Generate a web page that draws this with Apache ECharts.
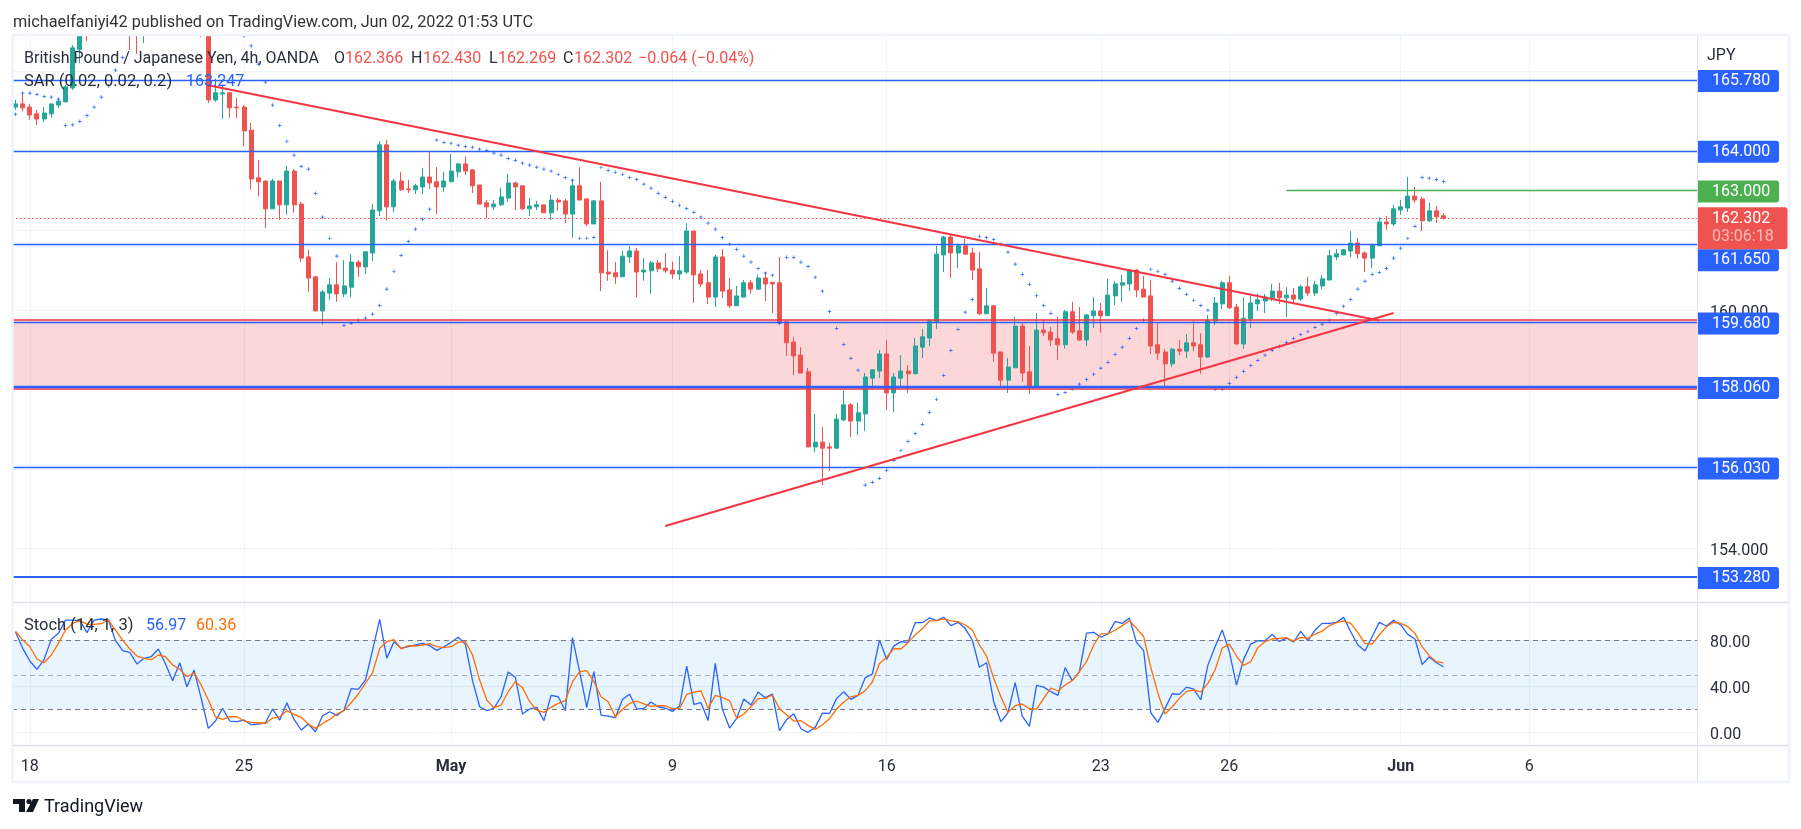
<!DOCTYPE html>
<html lang="en">
<head>
<meta charset="UTF-8">
<title>GBPJPY 4h</title>
<script src="https://cdn.jsdelivr.net/npm/echarts@6/dist/echarts.min.js"></script>
<style>
html,body{margin:0;padding:0;background:#fff;}
#chart{width:1801px;height:829px;}
</style>
</head>
<body>
<div id="chart"></div>
<script>
// candles, 4h bars. bars 9-27 run above the visible pane so those are rough guesses
var opens = [
165.10,165.18,165.10,164.93,164.80,164.93,165.15,165.23,165.58,166.55,
167.60,167.0,167.4,167.7,167.6,167.9,167.5,167.2,167.0,167.3,
167.5,167.8,167.6,167.7,167.5,167.6,167.4,167.1,165.28,165.43,
165.46,165.10,165.10,164.52,163.32,163.24,162.54,163.24,162.64,163.49,
162.66,161.33,160.83,159.97,160.42,160.63,160.40,160.57,161.20,161.08,
161.43,162.49,164.15,162.59,163.24,163.04,163.02,163.09,163.34,163.22,
163.09,163.22,163.47,163.67,163.52,163.14,162.69,162.59,162.64,162.81,
163.19,163.12,162.54,162.59,162.64,162.44,162.76,162.74,162.41,163.12,
162.79,162.16,162.74,160.95,160.93,160.83,161.33,161.48,160.95,160.98,
161.18,161.05,161.00,160.90,160.95,161.98,160.90,160.68,160.32,161.33,
160.50,160.10,160.32,160.68,160.52,160.80,160.69,160.68,159.70,159.19,
158.86,158.44,156.55,156.67,156.55,156.52,157.23,157.61,157.20,157.38,
158.28,158.46,158.89,157.91,158.28,158.46,158.39,159.06,159.29,159.70,
161.38,161.83,161.43,161.61,161.43,161.03,159.90,160.10,158.94,158.23,
158.54,159.59,158.44,158.06,159.49,159.44,159.27,159.12,159.95,159.47,
159.24,159.85,159.97,159.85,160.35,160.62,160.65,161.00,160.52,160.35,
159.12,158.94,158.64,159.01,158.96,159.17,159.12,158.81,159.72,160.15,
160.68,160.07,159.14,159.77,160.15,160.22,160.30,160.47,160.30,160.37,
160.27,160.58,160.42,160.60,160.75,161.33,161.38,161.48,161.68,161.43,
161.30,161.61,162.21,162.16,162.51,162.56,162.86,162.79,162.24,162.49,
162.366];
var closes = [
165.18,165.08,164.90,164.80,164.95,165.18,165.25,165.61,166.59,167.30,
167.00,167.4,167.7,167.6,167.9,167.5,167.0,167.0,167.3,167.5,
167.8,167.6,167.7,167.5,167.6,167.4,167.1,165.28,165.46,165.46,
165.08,165.08,164.50,163.29,163.22,162.54,163.24,162.64,163.49,162.64,
161.30,160.80,159.97,160.45,160.63,160.40,160.60,161.20,161.08,161.46,
162.51,164.15,162.59,163.24,163.02,163.02,163.12,163.34,163.19,163.09,
163.24,163.49,163.67,163.49,163.12,162.66,162.59,162.66,162.84,163.19,
163.09,162.54,162.61,162.64,162.44,162.76,162.71,162.41,163.12,162.76,
162.16,162.74,160.93,160.90,160.83,161.35,161.48,160.95,161.00,161.18,
161.03,160.98,160.90,160.98,161.98,160.88,160.65,160.32,161.33,160.47,
160.10,160.35,160.68,160.52,160.80,160.65,160.65,159.67,159.17,158.84,
158.41,156.55,156.67,156.52,156.52,157.25,157.61,157.20,157.41,158.31,
158.49,158.89,157.91,158.31,158.46,158.39,159.09,159.32,159.72,161.40,
161.83,161.43,161.61,161.40,161.00,159.90,160.10,158.91,158.23,158.56,
159.59,158.41,158.06,159.49,159.42,159.24,159.12,159.95,159.44,159.24,
159.87,159.97,159.85,160.37,160.65,160.68,161.00,160.50,160.32,159.09,
158.91,158.64,159.01,158.96,159.17,159.09,158.81,159.74,160.17,160.68,
160.05,159.14,159.79,160.17,160.25,160.32,160.47,160.30,160.37,160.27,
160.58,160.42,160.63,160.78,161.36,161.41,161.51,161.68,161.41,161.30,
161.63,162.21,162.16,162.54,162.59,162.86,162.76,162.24,162.49,162.34,
162.302];
var lows = [
165.03,164.99,164.78,164.65,164.73,164.83,165.08,165.23,165.53,166.20,
166.76,166.95,167.2,167.3,167.4,167.2,166.54,166.44,166.71,167.1,
167.3,167.3,167.3,167.2,167.3,167.2,166.86,165.20,165.23,164.80,
164.83,164.83,164.12,163.02,162.86,162.06,162.54,162.26,162.39,162.44,
161.20,160.45,159.97,159.62,160.25,160.20,160.32,160.32,160.83,160.90,
161.23,162.36,162.24,162.46,162.99,162.94,162.91,162.91,163.04,162.41,
162.97,163.22,163.34,163.39,162.94,162.66,162.31,162.51,162.61,162.71,
162.51,162.51,162.36,162.51,162.44,162.26,162.49,162.18,161.81,162.76,
162.11,162.16,160.47,160.73,160.65,160.83,161.18,160.32,160.73,160.40,
160.95,160.93,160.78,160.75,160.90,160.17,160.57,160.15,160.07,160.30,
160.05,160.10,160.30,160.40,160.52,160.22,159.92,159.64,158.84,158.36,
158.41,156.55,156.42,155.59,155.95,156.50,157.20,156.80,156.85,156.95,
158.01,158.28,157.48,157.43,158.08,157.91,158.39,158.79,159.09,159.52,
160.95,160.80,161.05,161.40,160.75,159.87,159.90,158.69,158.06,157.91,
158.54,158.19,157.88,158.06,159.34,159.09,158.74,159.02,159.39,159.22,
159.09,159.54,159.42,159.85,160.12,160.20,160.47,160.32,160.32,158.89,
158.74,158.03,158.56,158.86,158.79,158.96,158.39,158.79,159.62,160.02,
160.02,159.12,159.02,159.54,159.97,159.92,160.22,160.15,159.82,160.15,
160.22,160.35,160.35,160.52,160.75,161.25,161.38,161.33,161.28,160.95,
161.05,161.61,162.01,162.11,162.39,162.46,162.69,161.98,162.21,162.19,
162.269];
var highs = [
165.28,165.46,165.18,165.03,165.10,165.18,165.33,165.66,166.66,167.60,
167.70,167.6,167.9,168.0,168.1,168.2,167.7,167.6,167.5,167.7,
167.9,168.0,167.9,167.9,167.8,167.8,167.5,167.2,165.82,165.66,
165.46,165.33,165.15,164.70,163.77,163.24,163.29,163.24,163.62,163.54,
162.71,161.51,160.85,160.50,160.80,161.20,161.25,161.40,161.25,161.48,
162.66,164.25,164.27,163.29,163.47,163.27,163.17,163.57,163.97,163.59,
163.47,163.92,163.69,163.85,163.54,163.14,162.76,162.76,163.07,163.42,
163.22,163.12,162.81,162.74,162.64,162.89,162.81,162.79,163.29,163.59,
162.79,162.76,163.22,161.50,161.20,161.48,161.60,161.56,161.30,161.23,
161.25,161.43,161.21,161.35,162.18,161.98,161.00,161.00,161.38,161.53,
160.80,160.60,160.75,160.75,160.88,160.95,160.70,161.33,159.70,159.32,
159.06,158.54,157.38,157.05,156.65,157.38,157.96,157.66,157.66,158.41,
158.51,158.99,159.24,158.41,158.86,158.61,159.29,159.52,159.77,161.61,
161.86,161.88,161.63,161.78,161.56,161.46,160.55,160.12,158.94,158.79,
159.82,159.67,159.09,159.92,159.77,159.57,159.82,159.99,160.20,160.07,
159.90,160.32,160.17,160.78,160.72,160.88,161.03,161.03,160.85,160.75,
159.67,159.01,159.04,159.24,159.39,159.72,159.41,159.87,160.32,160.73,
160.85,160.15,160.32,160.35,160.40,160.40,160.65,160.68,160.57,160.55,
160.63,160.83,160.73,160.88,161.51,161.53,161.53,161.98,161.81,161.46,
161.66,162.33,162.36,162.64,162.76,163.34,163.09,162.84,162.69,162.61,
162.430];
// parabolic SAR, bars 16-31 are above the pane
var sar = [
164.92,165.45,165.45,165.42,165.37,165.35,165.30,164.64,164.65,164.74,
164.89,165.10,165.35,165.63,166.03,166.35,null,null,null,null,
null,null,null,null,null,null,null,null,null,null,
null,null,166.89,166.64,166.18,165.73,165.15,164.64,164.24,163.89,
163.61,163.54,162.93,162.33,161.80,161.35,159.61,159.66,159.74,159.79,
159.89,160.11,160.52,160.97,161.37,161.72,162.03,162.28,162.53,164.27,
164.21,164.19,164.14,164.11,164.09,164.04,164.01,163.94,163.89,163.81,
163.76,163.69,163.64,163.59,163.54,163.49,163.41,163.33,163.26,161.80,
161.80,161.82,163.58,163.51,163.46,163.41,163.33,163.28,163.16,163.06,
162.93,162.83,162.73,162.63,162.55,162.45,162.33,162.18,162.03,161.82,
161.65,161.52,161.35,161.20,161.04,160.92,160.87,159.66,161.32,161.32,
161.20,161.09,160.82,160.47,159.96,159.53,159.13,158.78,158.48,155.59,
155.66,155.76,155.96,156.21,156.46,156.69,156.89,157.12,157.42,157.75,
158.35,158.98,159.51,159.94,160.26,161.85,161.82,161.77,161.65,161.45,
161.15,160.89,160.64,160.36,160.11,159.91,157.87,157.92,158.00,158.13,
158.25,158.38,158.53,158.68,158.88,159.06,159.28,159.53,159.74,161.02,
160.97,160.89,160.72,160.54,160.39,160.24,160.11,159.99,158.00,158.00,
158.15,158.30,158.45,158.60,158.73,158.86,158.98,159.08,159.18,159.28,
159.38,159.46,159.56,159.64,159.74,159.91,160.09,160.26,160.52,160.72,
160.89,160.94,161.04,161.30,161.55,161.80,162.10,163.33,163.31,163.28,
163.23];
// stochastic %K and %D
var stochK = [
87.2,73.0,62.0,54.7,63.4,80.8,86.0,97.6,97.6,97.1,
86.6,97.6,98.5,97.6,79.7,71.0,69.5,59.4,64.3,65.7,
72.4,59.4,44.9,60.5,39.6,54.1,29.5,3.4,9.8,20.8,
9.8,9.2,10.6,6.6,7.2,8.3,20.2,10.6,25.7,11.2,
2.0,7.2,0.5,14.4,17.9,14.7,19.3,37.9,37.3,45.4,
71.5,98.2,64.3,78.8,73.0,74.4,75.9,77.3,75.3,71.2,
74.4,78.2,82.6,76.5,44.9,22.2,18.8,20.8,30.9,52.4,
47.8,15.9,20.2,21.7,10.1,32.1,30.9,18.8,82.3,52.7,
21.7,52.7,15.0,14.1,12.7,28.6,33.0,20.2,20.8,26.3,
22.2,21.1,18.2,22.8,57.6,24.3,25.7,10.3,59.9,20.0,
3.7,12.1,28.9,23.7,35.0,30.1,33.3,1.4,11.2,16.2,
3.1,0,4.3,16.7,16.4,29.5,35.3,28.6,32.1,47.5,
50.7,80.2,63.4,75.0,78.8,78.2,95.3,95.3,99.4,97.1,
100,92.7,95.6,90.4,80.2,56.5,60.5,26.6,9.2,17.0,
43.1,14.1,5.1,40.8,39.3,35.3,32.1,56.2,44.9,52.7,
86.3,86.9,82.6,85.5,96.2,94.7,99.4,78.2,71.0,17.0,
8.6,20.8,33.5,33.0,39.3,37.6,28.3,58.4,74.4,88.9,
70.1,41.1,63.4,76.7,79.6,79.6,85.1,79.0,81.9,78.5,
87.7,79.6,88.9,94.7,94.7,95.6,99.9,87.4,75.9,70.6,
83.1,95.6,92.4,97.3,93.3,85.1,81.1,59.0,65.4,60.5,
56.97];
var stochD = [
87.8,80.2,74.4,63.7,60.5,67.2,77.3,88.9,94.7,97.1,
93.9,93.9,94.4,97.6,88.9,80.2,72.4,66.3,64.3,63.1,
67.2,65.7,58.5,54.7,48.3,51.8,41.1,28.0,13.5,11.2,
13.5,13.5,9.8,8.6,8.3,7.7,12.4,13.5,18.8,15.6,
13.0,7.2,3.4,7.7,11.2,15.9,18.8,25.7,33.3,42.5,
51.8,73.0,78.8,80.5,72.4,75.3,75.0,75.9,76.8,74.4,
73.6,74.4,78.2,78.8,67.2,45.4,28.0,21.4,23.7,35.3,
44.0,38.8,26.6,19.3,17.3,21.7,25.1,27.5,44.0,52.7,
53.6,44.0,30.9,26.6,13.5,20.0,25.1,27.2,24.8,22.5,
23.1,23.1,20.5,20.5,33.0,35.0,35.9,20.8,32.1,30.1,
27.5,12.1,15.9,22.2,29.2,29.5,32.4,20.5,15.0,9.8,
10.1,6.0,2.5,6.6,11.8,20.2,26.3,30.9,32.1,36.2,
43.7,59.9,65.2,72.7,72.4,77.9,84.9,90.1,96.8,97.1,
98.5,96.8,96.2,93.3,88.9,75.9,66.3,46.9,30.9,17.3,
23.1,24.6,20.5,20.2,29.5,38.5,35.9,41.1,44.9,52.7,
61.4,75.9,85.5,85.8,88.7,92.7,97.1,90.4,83.1,56.5,
33.8,15.9,22.2,29.5,35.6,36.7,35.1,42.5,54.1,73.2,
76.7,66.3,58.2,61.4,73.8,78.7,81.1,81.7,82.2,79.3,
82.5,81.7,85.4,88.0,92.7,95.3,96.7,94.7,86.6,77.3,
76.7,84.6,91.8,95.6,94.7,91.8,86.0,74.4,66.6,61.4,
60.36];

var barSlots = 236; // bars + empty space on the right of the pane
var tickIndex = [2,32,61,92,122,152,170,194,212];
var tickLabels = ['18','25','May','9','16','23','26','Jun','6'];
var priceTicks = [154,156,158,160,162,164,166];
var priceLabels = [154,160]; // the rest sit behind the level tags
var stochTicks = [0,40,80];

var levelValues = [165.78,164.00,161.65,159.68,158.06,156.03,153.28];
var zoneRange = [159.74,158.015];
var lastPrice = 162.302;
var targetPrice = 163.0;
var targetFrom = 178;
var fallLineX = [27,191];
var fallLineY = [165.65,159.73];
var riseLineX = [91,193];
var riseLineY = [154.56,159.92];

var BLUE = '#2962ff', RED = '#ef5350', GREEN = '#26a69a', TREND = '#f23645', GRID = '#f0f3fa', EDGE = '#e0e3eb', TXT = '#2a2e39';
var FONT = 'Roboto';

var categories = opens.map(function (v, i) { return String(i); });
var candles = opens.map(function (v, i) { return [opens[i], closes[i], lows[i], highs[i]]; });

function tagLabel(str, bg, offsetY) {
  return {
    show: true, position: 'end', distance: 0, formatter: str, offset: [0, 1 + (offsetY || 0)],
    color: '#fff', fontFamily: FONT, fontSize: 16, backgroundColor: bg,
    width: 57, height: 22, lineHeight: 22, padding: [0, 10, 0, 15], borderRadius: [0, 3, 3, 0], align: 'left'
  };
}

// the 161.650 tag gets pushed down by the price tag
var levelOffset = {'161.65': 15};
var levelLines = levelValues.map(function (v) {
  return {
    yAxis: v,
    lineStyle: {color: BLUE, width: v === 153.28 ? 2.2 : (v === 158.06 ? 2.4 : 1.4), type: 'solid'},
    label: tagLabel(v.toFixed(3), BLUE, levelOffset[v])
  };
});
levelLines.push({yAxis: targetPrice, lineStyle: {color: 'rgba(0,0,0,0)', width: 1, type: 'solid'}, label: tagLabel(targetPrice.toFixed(3), '#4caf50')});

function pairs(xs, ys) { return xs.map(function (x, i) { return [x, ys[i]]; }); }
function text(x, y, str, color, size, weight) {
  return {type: 'text', x: x, y: y + 1.5, z: 50, silent: true,
    style: {text: str, fill: color || TXT, fontFamily: FONT, fontSize: size || 16, fontWeight: weight || 'normal', verticalAlign: 'middle', align: 'left'}};
}
function frameLine(x1, y1, x2, y2, color, w) {
  return {type: 'line', z: 40, silent: true, shape: {x1: x1, y1: y1, x2: x2, y2: y2}, style: {stroke: color, lineWidth: w}};
}

var chart = echarts.init(document.getElementById('chart'), null, {renderer: 'canvas'});
chart.setOption({
  animation: false,
  backgroundColor: '#fff',
  grid: [
    {left: 12, top: 36, width: 1685, height: 566},
    {left: 12, top: 603, width: 1685, height: 142}
  ],
  xAxis: [
    {type: 'category', gridIndex: 0, data: categories.concat(new Array(barSlots - categories.length).fill('')), boundaryGap: true, show: false},
    {type: 'category', gridIndex: 1, data: categories.concat(new Array(barSlots - categories.length).fill('')), boundaryGap: true, show: false},
    // value axes over the same slots: date grid, labels and the drawn lines
    {type: 'value', gridIndex: 0, min: -0.5, max: barSlots - 0.5, axisLine: {show: false}, axisLabel: {show: false},
      axisTick: {show: false, customValues: tickIndex}, splitLine: {show: true, lineStyle: {color: GRID, width: 1}}},
    {type: 'value', gridIndex: 1, position: 'bottom', min: -0.5, max: barSlots - 0.5, axisLine: {show: false},
      axisTick: {show: false, customValues: tickIndex}, splitLine: {show: true, lineStyle: {color: GRID, width: 1}},
      axisLabel: {show: true, customValues: tickIndex, margin: 14, color: TXT, fontFamily: FONT, fontSize: 16, hideOverlap: false,
        showMinLabel: true, showMaxLabel: true,
        formatter: function (v) {
          var s = tickLabels[tickIndex.indexOf(v)];
          return (s === 'May' || s === 'Jun') ? '{b|' + s + '}' : s;
        },
        rich: {b: {fontWeight: 'bold', fontFamily: FONT, fontSize: 16, color: TXT}}}}
  ],
  yAxis: [
    {type: 'value', gridIndex: 0, position: 'right', min: 152.649, max: 166.888, axisLine: {show: false},
      axisTick: {show: false, customValues: priceTicks}, splitLine: {show: true, lineStyle: {color: GRID, width: 1}},
      axisLabel: {customValues: priceLabels, margin: 13, align: 'left', verticalAlign: 'top', lineHeight: 6, color: TXT, fontFamily: FONT, fontSize: 16,
        formatter: function (v) { return v.toFixed(3); }}},
    {type: 'value', gridIndex: 1, position: 'right', min: -11.04, max: 112.4, axisLine: {show: false},
      axisTick: {show: false, customValues: stochTicks}, splitLine: {show: true, lineStyle: {color: GRID, width: 1}},
      axisLabel: {customValues: stochTicks, margin: 13, align: 'left', verticalAlign: 'top', lineHeight: 6, color: TXT, fontFamily: FONT, fontSize: 16,
        formatter: function (v) { return v.toFixed(2); }}}
  ],
  series: [
    {name: 'zone', type: 'line', xAxisIndex: 2, yAxisIndex: 0, data: [], z: 1, silent: true,
      markArea: {silent: true, itemStyle: {color: 'rgba(242,54,69,0.2)'}, data: [[{yAxis: zoneRange[0]}, {yAxis: zoneRange[1]}]]},
      markLine: {silent: true, symbol: 'none', label: {show: false},
        lineStyle: {color: TREND, width: 1.6, type: 'solid'}, data: [{yAxis: zoneRange[0]}, {yAxis: zoneRange[1]}]}},
    {name: 'GBPJPY', type: 'candlestick', xAxisIndex: 0, yAxisIndex: 0, data: candles, z: 3, barWidth: 4.5,
      itemStyle: {color: GREEN, color0: RED, borderColor: GREEN, borderColor0: RED, borderWidth: 1}},
    {name: 'SAR', type: 'scatter', xAxisIndex: 0, yAxisIndex: 0, data: sar, z: 4,
      symbol: 'path://M2 0H3V2H5V3H3V5H2V3H0V2H2Z', symbolSize: 3.6, itemStyle: {color: BLUE, opacity: 1}},
    {name: 'levels', type: 'line', xAxisIndex: 2, yAxisIndex: 0, data: [], z: 5, silent: true,
      markLine: {silent: true, symbol: 'none', animation: false, data: levelLines}},
    {name: 'last', type: 'line', xAxisIndex: 2, yAxisIndex: 0, data: [], z: 6, silent: true,
      markLine: {silent: true, symbol: 'none', data: [{
        yAxis: lastPrice,
        lineStyle: {color: RED, width: 1, type: [1.5, 2.5]},
        label: {show: true, position: 'end', distance: 0, offset: [0, 10], backgroundColor: RED, borderRadius: [0, 3, 3, 0],
          padding: [3, 14, 3, 15], align: 'left', color: '#fff', fontFamily: FONT, fontSize: 16,
          formatter: '{a|' + lastPrice.toFixed(3) + '}\n{c|03:06:18}',
          rich: {a: {color: '#fff', fontFamily: FONT, fontSize: 16, lineHeight: 18}, c: {color: 'rgba(255,255,255,0.6)', fontFamily: FONT, fontSize: 16, lineHeight: 18}}}
      }]}},
    {name: 'target', type: 'line', xAxisIndex: 2, yAxisIndex: 0, z: 5, silent: true, symbol: 'none',
      data: [[targetFrom, targetPrice], [barSlots - 0.5, targetPrice]], lineStyle: {color: '#4caf50', width: 1.5}},
    {name: 'fall', type: 'line', xAxisIndex: 2, yAxisIndex: 0, z: 6, silent: true, symbol: 'none',
      data: pairs(fallLineX, fallLineY), lineStyle: {color: TREND, width: 2.2}},
    {name: 'rise', type: 'line', xAxisIndex: 2, yAxisIndex: 0, z: 6, silent: true, symbol: 'none',
      data: pairs(riseLineX, riseLineY), lineStyle: {color: TREND, width: 2.2}},
    {name: 'stochK', type: 'line', xAxisIndex: 1, yAxisIndex: 1, data: stochK, symbol: 'none', z: 4, lineStyle: {color: BLUE, width: 1.3},
      markArea: {silent: true, itemStyle: {color: 'rgba(33,150,243,0.1)'}, data: [[{yAxis: 80}, {yAxis: 20}]]},
      markLine: {silent: true, symbol: 'none', label: {show: false}, data: [
        {yAxis: 80, lineStyle: {color: '#787b86', width: 1, type: [5, 4]}},
        {yAxis: 50, lineStyle: {color: 'rgba(120,123,134,0.6)', width: 1, type: [5, 4]}},
        {yAxis: 20, lineStyle: {color: '#787b86', width: 1, type: [5, 4]}}]}},
    {name: 'stochD', type: 'line', xAxisIndex: 1, yAxisIndex: 1, data: stochD, symbol: 'none', z: 5, lineStyle: {color: '#ff6d00', width: 1.3}}
  ],
  graphic: [
    // candles leaving the pane are not cut by the library, cover them
    {type: 'rect', z: 30, silent: true, shape: {x: 0, y: 0, width: 1801, height: 35}, style: {fill: '#fff'}},
    frameLine(12, 35, 1789, 35, GRID, 2.5),
    frameLine(12.5, 35, 12.5, 782, GRID, 2.5),
    frameLine(1789, 35, 1789, 782, GRID, 2.5),
    frameLine(12, 782, 1789, 782, GRID, 2.5),
    frameLine(13, 602.5, 1788, 602.5, EDGE, 1.5),
    frameLine(13, 745.5, 1788, 745.5, EDGE, 1.5),
    frameLine(1697.5, 36, 1697.5, 782, EDGE, 1),
    text(13, 21, 'michaelfaniyi42 published on TradingView.com, Jun 02, 2022 01:53 UTC', '#333', 16.3),
    text(24, 57, 'British Pound / Japanese Yen, 4h, OANDA'),
    text(334, 57, 'O'), text(345, 57, '162.366', RED),
    text(411, 57, 'H'), text(423, 57, '162.430', RED),
    text(489, 57, 'L'), text(498, 57, '162.269', RED),
    text(563, 57, 'C'), text(574, 57, '162.302', RED),
    text(638, 57, '\u22120.064 (\u22120.04%)', RED),
    text(24, 80, 'SAR (0.02, 0.02, 0.2)', TXT, 16.5),
    text(186, 80, '163.247', BLUE),
    text(1707, 54, 'JPY'),
    text(24, 624, 'Stoch (14, 1, 3)', TXT, 16.5),
    text(146, 624, '56.97', BLUE),
    text(196, 624, '60.36', '#ff6d00'),
    // logo
    {type: 'polygon', z: 50, silent: true, shape: {points: [[13, 799], [25, 799], [25, 812], [19, 812], [19, 804], [13, 804]]}, style: {fill: '#131722'}},
    {type: 'circle', z: 50, silent: true, shape: {cx: 29, cy: 801.5, r: 2.6}, style: {fill: '#131722'}},
    {type: 'polygon', z: 50, silent: true, shape: {points: [[33, 799], [39, 799], [33, 812], [26, 812]]}, style: {fill: '#131722'}},
    text(44, 806, 'TradingView', '#131722', 18)
  ]
});
</script>
</body>
</html>
